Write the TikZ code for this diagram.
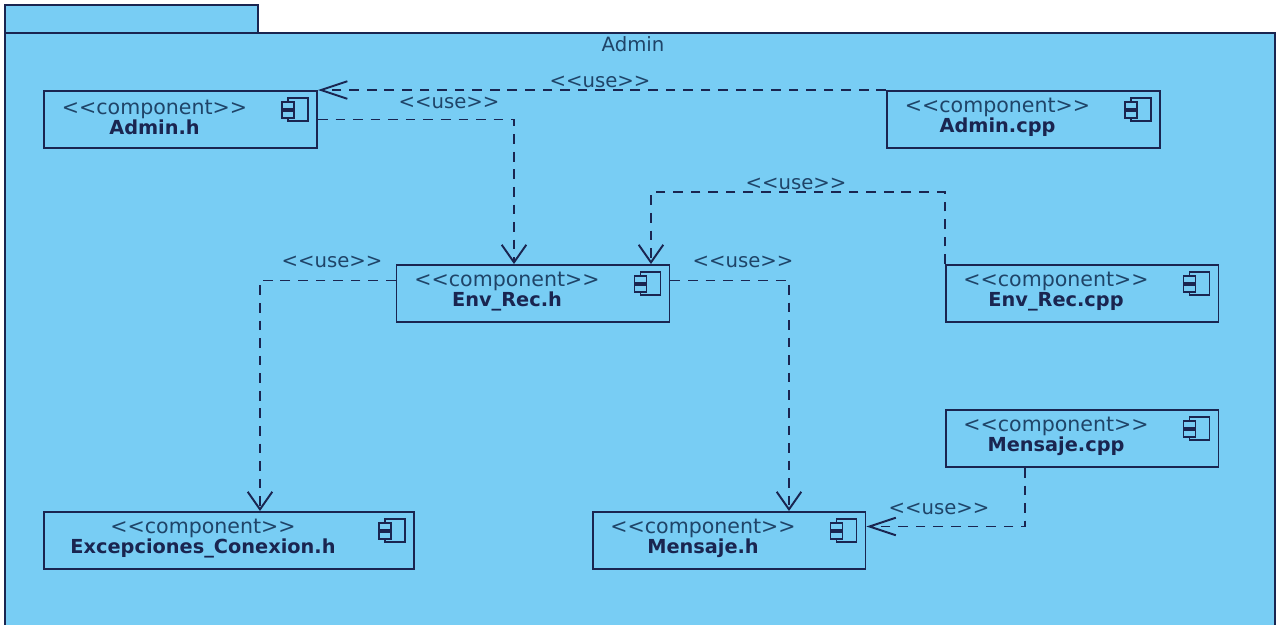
\documentclass[tikz,border=0pt]{standalone}
\usepackage{fontspec}
\setmainfont{DejaVu Sans}
\usetikzlibrary{arrows.meta}
\definecolor{pkgblue}{HTML}{78CDF4}
\definecolor{linenavy}{HTML}{1A2550}
\definecolor{stereonavy}{HTML}{1F4468}
\newcommand{\stereo}{{\color{stereonavy}\mdseries\fontsize{11.7}{11.4}\selectfont <{}<component>{}>}}

\begin{document}
\begin{tikzpicture}[x=0.02cm,y=-0.02cm,
    pkgbox/.style={draw=linenavy,line width=1.1pt,fill=pkgblue},
    compbox/.style={draw=linenavy,line width=1.1pt,inner sep=0pt,minimum height=1.14cm,minimum width=5.46cm},
    compname/.style={align=center,inner sep=0pt,text=linenavy,font=\fontsize{11}{11.4}\selectfont\bfseries,xshift=-0.52cm,yshift=0.04cm},
    uselabel/.style={inner sep=0pt,text=stereonavy,font=\fontsize{11.2}{13}\selectfont},
    usedep/.style={draw=linenavy,line width=1.1pt,dash pattern=on 5.5pt off 4.5pt},
    usedown/.style={usedep,-{Straight Barb[length=10pt,width=14pt,line width=1.1pt]}},
    useside/.style={usedep,-{Straight Barb[length=15pt,width=10pt,line width=1.1pt]}},
    pics/compicon/.style={code={
      \draw[linenavy,line width=1pt] (-30,8) rectangle (-10,31);
      \draw[linenavy,line width=1pt,fill=pkgblue] (-36,12) rectangle (-24,19);
      \draw[linenavy,line width=1pt,fill=pkgblue] (-36,21) rectangle (-24,28);
    }}]
  \useasboundingbox (0,0) rectangle (1278,625);

  \draw[pkgbox] (5,5) rectangle (258,33);
  \draw[pkgbox] (5,33) rectangle (1275,632);
  \node[uselabel] (pkgtitle) at (633,44) {Admin};

  \node[compbox] (adminh) at (180.5,119.5) {};
  \node[compname] (adminhtxt) at (adminh) {\stereo\\Admin.h};
  \node[compbox] (admincpp) at (1023.5,119.5) {};
  \node[compname] (admincpptxt) at (admincpp) {\stereo\\Admin.cpp};
  \node[compbox] (envrech) at (533,293.5) {};
  \node[compname] (envrechtxt) at (envrech) {\stereo\\Env\_Rec.h};
  \node[compbox] (envreccpp) at (1082,293.5) {};
  \node[compname] (envreccpptxt) at (envreccpp) {\stereo\\Env\_Rec.cpp};
  \node[compbox] (mensajecpp) at (1082,438.5) {};
  \node[compname] (mensajecpptxt) at (mensajecpp) {\stereo\\Mensaje.cpp};
  \node[compbox,minimum width=7.4cm] (excepcionesh) at (229,540.5) {};
  \node[compname] (excepcioneshtxt) at (excepcionesh) {\stereo\\Excepciones\_Conexion.h};
  \node[compbox] (mensajeh) at (729,540.5) {};
  \node[compname] (mensajehtxt) at (mensajeh) {\stereo\\Mensaje.h};

  \pic at (adminh.north east) {compicon};
  \pic at (admincpp.north east) {compicon};
  \pic at (envrech.north east) {compicon};
  \pic at (envreccpp.north east) {compicon};
  \pic at (mensajecpp.north east) {compicon};
  \pic at (excepcionesh.north east) {compicon};
  \pic at (mensajeh.north east) {compicon};

  \draw[useside] (admincpp.north west) -- (adminh.north east);
  \draw[usedown] (adminh.east) -| ([xshift=-0.38cm]envrech.north);
  \draw[usedown] (envreccpp.north west) -- ++(0,-72) -| ([xshift=2.36cm]envrech.north);
  \draw[usedown] ([yshift=0.26cm]envrech.west) -| ([xshift=0.62cm]excepcionesh.north);
  \draw[usedown] ([yshift=0.26cm]envrech.east) -| ([xshift=1.2cm]mensajeh.north);
  \draw[useside] ([xshift=-1.14cm]mensajecpp.south) |- ([yshift=0.28cm]mensajeh.east);

  \node[uselabel] (use1) at (600,82) {<{}<use>{}>};
  \node[uselabel] (use2) at (449,103) {<{}<use>{}>};
  \node[uselabel] (use3) at (796,184) {<{}<use>{}>};
  \node[uselabel] (use4) at (332,262) {<{}<use>{}>};
  \node[uselabel] (use5) at (743,262) {<{}<use>{}>};
  \node[uselabel] (use6) at (939,509) {<{}<use>{}>};
\end{tikzpicture}
\end{document}
